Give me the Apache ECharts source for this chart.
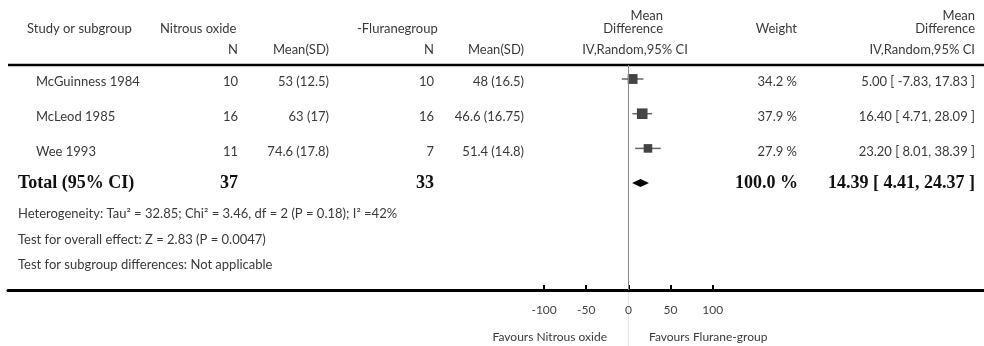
<!DOCTYPE html>
<html>
<head>
<meta charset="utf-8">
<script src="https://cdn.jsdelivr.net/npm/echarts@6/dist/echarts.min.js"></script>
<style>
html,body{margin:0;padding:0;background:#fff;}
#main{width:984px;height:346px;}
</style>
</head>
<body>
<div id="main"></div>
<script>
// ---- data ----
const studies = ['McGuinness 1984', 'McLeod 1985', 'Wee 1993'];
const nitrousN = [10, 16, 11];
const nitrousMeanSD = ['53 (12.5)', '63 (17)', '74.6 (17.8)'];
const fluraneN = [10, 16, 7];
const fluraneMeanSD = ['48 (16.5)', '46.6 (16.75)', '51.4 (14.8)'];
const weights = [34.2, 37.9, 27.9];
const meanDiff = [5.00, 16.40, 23.20];
const ciLower = [-7.83, 4.71, 8.01];
const ciUpper = [17.83, 28.09, 38.39];
const totalN = [37, 33];
const totalWeight = 100.0;
const totalMD = 14.39;
const totalCI = [4.41, 24.37];
const tickValues = [-100, -50, 0, 50, 100];
const heterogeneity = 'Heterogeneity: Tau\u00B2 = 32.85; Chi\u00B2 = 3.46, df = 2 (P = 0.18); I\u00B2 =42%';
const overallEffect = 'Test for overall effect: Z = 2.83 (P = 0.0047)';
const subgroupDiff = 'Test for subgroup differences: Not applicable';

// ---- layout ----
const W = 984, H = 346;
const gridLeft = 8, gridTop = 65, axisY = 290;
const zeroPx = 628.4, pxPerUnit = 0.843;
const xMin = -(zeroPx - gridLeft) / pxPerUnit;
const xMax = (W - zeroPx) / pxPerUnit;
const firstRowPx = 79, rowGap = 34.7;
const gridH = axisY - gridTop;
const yMin = -(firstRowPx - gridTop) / rowGap;
const yMax = yMin + gridH / rowGap;

const FONT = 'Lato, "Open Sans", sans-serif';
const TXT = '#3a3a3a';
const fs = 13;

function txt(text, x, y, align, opt) {
  opt = opt || {};
  return {
    type: 'text', silent: true,
    style: {
      text: text, x: x, y: y,
      fill: opt.fill || TXT,
      fontFamily: opt.family || FONT,
      fontSize: opt.size || fs,
      fontWeight: opt.weight || 'normal',
      align: align, textAlign: align,
      verticalAlign: 'middle', textVerticalAlign: 'middle'
    }
  };
}

const fmt2 = v => v.toFixed(2);
const studyRows = studies.map((s, i) => [meanDiff[i], i, ciLower[i], ciUpper[i], weights[i]]);

const chart = echarts.init(document.getElementById('main'));

const headerGraphics = [
  { type: 'line', silent: true, shape: { x1: gridLeft, y1: gridTop, x2: W, y2: gridTop }, style: { stroke: '#000', lineWidth: 2.5 } },
  txt('Study or subgroup', 27, 29, 'left'),
  txt('Nitrous oxide', 160, 29, 'left'),
  txt('-Fluranegroup', 357, 29, 'left'),
  txt('Mean', 663, 16, 'right'),
  txt('Difference', 663, 29, 'right'),
  txt('Weight', 797, 29, 'right'),
  txt('Mean', 975, 16, 'right'),
  txt('Difference', 975, 29, 'right'),
  txt('N', 238, 50, 'right'),
  txt('Mean(SD)', 329, 50, 'right'),
  txt('N', 434, 50, 'right'),
  txt('Mean(SD)', 524, 50, 'right'),
  txt('IV,Random,95% CI', 635, 50, 'center'),
  txt('IV,Random,95% CI', 975, 50, 'right'),
  txt(heterogeneity, 18, 214, 'left'),
  txt(overallEffect, 18, 240, 'left'),
  txt(subgroupDiff, 18, 265, 'left'),
  txt('Favours Nitrous oxide', 607, 337, 'right', { size: 12 }),
  txt('Favours Flurane-group', 649, 337, 'left', { size: 12 }),
  { type: 'line', silent: true, shape: { x1: zeroPx, y1: axisY + 2, x2: zeroPx, y2: H }, style: { stroke: '#e2e2e2', lineWidth: 1 } }
];

chart.setOption({
  animation: false,
  backgroundColor: '#fff',
  grid: { left: gridLeft, right: 0, top: gridTop, bottom: H - axisY, containLabel: false },
  xAxis: {
    type: 'value', min: xMin, max: xMax,
    axisLine: { show: true, onZero: false, lineStyle: { color: '#000', width: 3 } },
    axisTick: { show: true, inside: true, length: 5, customValues: tickValues, lineStyle: { color: '#000', width: 2 } },
    axisLabel: { show: true, customValues: tickValues, margin: 14, color: '#444', fontFamily: FONT, fontSize: 12 },
    splitLine: { show: false }
  },
  yAxis: { type: 'value', inverse: true, min: yMin, max: yMax, show: false },
  graphic: { elements: headerGraphics },
  series: [
    {
      type: 'custom',
      data: studyRows,
      renderItem: function (params, api) {
        const i = params.dataIndex;
        const md = api.value(0), row = api.value(1), lo = api.value(2), hi = api.value(3), w = api.value(4);
        const c = api.coord([md, row]);
        const pl = api.coord([lo, row]);
        const ph = api.coord([hi, row]);
        const size = 3 + w * 0.2;
        const ty = c[1] + 3;
        return {
          type: 'group',
          children: [
            { type: 'line', shape: { x1: pl[0], y1: c[1], x2: ph[0], y2: c[1] }, style: { stroke: '#666', lineWidth: 1.5 } },
            { type: 'rect', shape: { x: c[0] - size / 2, y: c[1] - size / 2, width: size, height: size }, style: { fill: '#444' } },
            txt(studies[i], 36, ty, 'left'),
            txt(String(nitrousN[i]), 238, ty, 'right'),
            txt(nitrousMeanSD[i], 329, ty, 'right'),
            txt(String(fluraneN[i]), 434, ty, 'right'),
            txt(fluraneMeanSD[i], 524, ty, 'right'),
            txt(weights[i].toFixed(1) + ' %', 797, ty, 'right'),
            txt(fmt2(meanDiff[i]) + ' [ ' + fmt2(ciLower[i]) + ', ' + fmt2(ciUpper[i]) + ' ]', 975, ty, 'right')
          ]
        };
      },
      markLine: {
        silent: true, symbol: 'none', label: { show: false },
        lineStyle: { color: '#888', width: 1, type: 'solid' },
        data: [{ xAxis: 0 }]
      },
      z: 3
    },
    {
      type: 'custom',
      data: [[totalMD, studies.length, totalCI[0], totalCI[1]]],
      renderItem: function (params, api) {
        const md = api.value(0), row = api.value(1), lo = api.value(2), hi = api.value(3);
        const c = api.coord([md, row]);
        const pl = api.coord([lo, row]);
        const ph = api.coord([hi, row]);
        const hh = 4;
        const bold = { family: '"Liberation Serif", "DejaVu Serif", serif', size: 18, weight: 'bold', fill: '#111' };
        const ty = c[1];
        return {
          type: 'group',
          children: [
            { type: 'polygon', shape: { points: [[pl[0], c[1]], [c[0], c[1] - hh], [ph[0], c[1]], [c[0], c[1] + hh]] }, style: { fill: '#000' } },
            txt('Total (95% CI)', 18, ty, 'left', bold),
            txt(String(totalN[0]), 238, ty, 'right', bold),
            txt(String(totalN[1]), 434, ty, 'right', bold),
            txt(totalWeight.toFixed(1) + ' %', 798, ty, 'right', bold),
            txt(fmt2(totalMD) + ' [ ' + fmt2(totalCI[0]) + ', ' + fmt2(totalCI[1]) + ' ]', 975, ty, 'right', bold)
          ]
        };
      },
      z: 3
    }
  ]
});
</script>
</body>
</html>
